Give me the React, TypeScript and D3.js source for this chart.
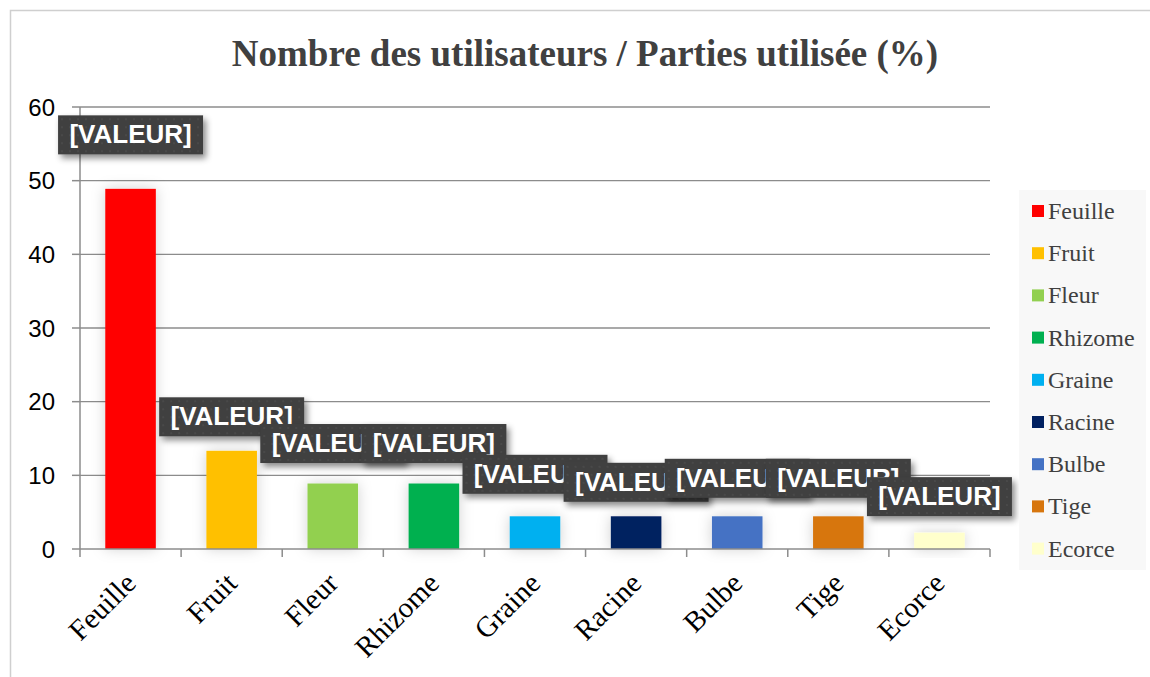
import React, { useEffect, useRef } from "react";
import * as d3 from "d3";

const categories = ["Feuille", "Fruit", "Fleur", "Rhizome", "Graine", "Racine", "Bulbe", "Tige", "Ecorce"];
const values = [48.89, 13.33, 8.89, 8.89, 4.44, 4.44, 4.44, 4.44, 2.22];
const barColors = ["#FF0000", "#FFC000", "#92D050", "#00B050", "#00B0F0", "#002060", "#4472C4", "#D7760E", "#FFFFCC"];
const yTicks = [0, 10, 20, 30, 40, 50, 60];
const labelText = "[VALEUR]";
// how far (px) each data label box centre sits above its bar
const labelLift = [54, 34, 40, 40, 42, 34, 38, 38, 36];

const W = 1150;
const H = 677;
const plot = { left: 80, right: 990, top: 107, bottom: 549 };

const App = () => {
  const ref = useRef<SVGSVGElement>(null);

  useEffect(() => {
    const svg = d3.select(ref.current);
    svg.selectAll("*").remove();

    const defs = svg.append("defs");
    const barShadow = defs.append("filter").attr("id", "barShadow")
      .attr("x", "-50%").attr("y", "-50%").attr("width", "200%").attr("height", "200%");
    barShadow.append("feDropShadow").attr("dx", 0).attr("dy", 0)
      .attr("stdDeviation", 7).attr("flood-color", "#000").attr("flood-opacity", 0.18);
    const boxShadow = defs.append("filter").attr("id", "boxShadow")
      .attr("x", "-20%").attr("y", "-40%").attr("width", "140%").attr("height", "180%");
    boxShadow.append("feDropShadow").attr("dx", 3).attr("dy", 4)
      .attr("stdDeviation", 3).attr("flood-color", "#000").attr("flood-opacity", 0.45);
    const dots = defs.append("pattern").attr("id", "dots")
      .attr("width", 8).attr("height", 8).attr("patternUnits", "userSpaceOnUse");
    dots.append("rect").attr("width", 8).attr("height", 8).attr("fill", "#404040");
    dots.append("circle").attr("cx", 4).attr("cy", 4).attr("r", 1).attr("fill", "#4c4c4c");

    // outer frame
    svg.append("rect").attr("x", 10.5).attr("y", 10.5).attr("width", W).attr("height", H)
      .attr("fill", "#fff").attr("stroke", "#cfcfcf").attr("stroke-width", 1.5);

    svg.append("text")
      .attr("x", 585).attr("y", 66)
      .attr("text-anchor", "middle")
      .attr("font-family", "Liberation Serif, Times New Roman, serif")
      .attr("font-weight", "bold").attr("font-size", 37)
      .attr("fill", "#404040")
      .text("Nombre des utilisateurs / Parties utilisée (%)");

    const x = d3.scaleBand<string>().domain(categories)
      .range([plot.left, plot.right]).paddingInner(0.5).paddingOuter(0.25);
    const xEdge = d3.scaleLinear().domain([0, categories.length]).range([plot.left, plot.right]);
    const y = d3.scaleLinear().domain([0, 60]).range([plot.bottom, plot.top]);

    // gridlines
    svg.append("g").selectAll("line").data(yTicks.filter((t) => t > 0)).enter().append("line")
      .attr("x1", plot.left).attr("x2", plot.right)
      .attr("y1", (d) => y(d)).attr("y2", (d) => y(d))
      .attr("stroke", "#8c8c8c").attr("stroke-width", 1.3);

    // bars
    svg.append("g").selectAll("rect").data(values).enter().append("rect")
      .attr("x", (_, i) => x(categories[i])!)
      .attr("width", x.bandwidth())
      .attr("y", (d) => y(d))
      .attr("height", (d) => y(0) - y(d))
      .attr("fill", (_, i) => barColors[i])
      .attr("filter", "url(#barShadow)");

    // axes
    const ax = svg.append("g").attr("stroke", "#8c8c8c").attr("stroke-width", 1.5);
    ax.append("line").attr("x1", plot.left).attr("x2", plot.left).attr("y1", plot.top).attr("y2", plot.bottom);
    ax.append("line").attr("x1", plot.left).attr("x2", plot.right).attr("y1", plot.bottom).attr("y2", plot.bottom);
    ax.selectAll(".yt").data(yTicks).enter().append("line")
      .attr("x1", plot.left - 8).attr("x2", plot.left)
      .attr("y1", (d) => y(d)).attr("y2", (d) => y(d));
    ax.selectAll(".xt").data(d3.range(categories.length + 1)).enter().append("line")
      .attr("x1", (d) => xEdge(d)).attr("x2", (d) => xEdge(d))
      .attr("y1", plot.bottom).attr("y2", plot.bottom + 8);

    svg.append("g").selectAll("text").data(yTicks).enter().append("text")
      .attr("x", 55).attr("y", (d) => y(d) + 8.5)
      .attr("text-anchor", "end")
      .attr("font-family", "Liberation Sans, Arial, sans-serif")
      .attr("font-size", 24).attr("fill", "#000")
      .text((d) => d);

    svg.append("g").selectAll("text").data(categories).enter().append("text")
      .attr("transform", (d) => `translate(${x(d)! + x.bandwidth() / 2 + 7},${plot.bottom + 36}) rotate(-45)`)
      .attr("text-anchor", "end")
      .attr("font-family", "Liberation Serif, Times New Roman, serif")
      .attr("font-size", 29).attr("fill", "#000")
      .text((d) => d);

    // data labels
    const boxW = 145;
    const boxH = 39;
    const lab = svg.append("g").selectAll("g").data(values).enter().append("g")
      .attr("transform", (d, i) =>
        `translate(${x(categories[i])! + x.bandwidth() / 2 - boxW / 2},${y(d) - labelLift[i] - boxH / 2})`);
    lab.append("rect").attr("width", boxW).attr("height", boxH)
      .attr("fill", "url(#dots)").attr("filter", "url(#boxShadow)");
    lab.append("text")
      .attr("x", boxW / 2).attr("y", 28)
      .attr("text-anchor", "middle")
      .attr("font-family", "Liberation Sans, Arial, sans-serif")
      .attr("font-weight", "bold").attr("font-size", 26)
      .attr("fill", "#fff")
      .text(labelText);

    // legend
    const lg = svg.append("g");
    lg.append("rect").attr("x", 1019).attr("y", 190).attr("width", 127).attr("height", 380).attr("fill", "#f8f8f8");
    const items = lg.selectAll("g").data(categories).enter().append("g")
      .attr("transform", (_, i) => `translate(1032,${211 + i * 42.2})`);
    items.append("rect").attr("x", 0).attr("y", -6).attr("width", 12).attr("height", 12)
      .attr("fill", (_, i) => barColors[i]);
    items.append("text").attr("x", 16).attr("y", 8)
      .attr("font-family", "Liberation Serif, Times New Roman, serif")
      .attr("font-size", 24).attr("fill", "#404040")
      .text((d) => d);
  }, []);

  return (
    <svg ref={ref} width={W} height={H}
      style={{ position: "absolute", left: 0, top: 0, background: "#fff" }} />
  );
};

export default App;
